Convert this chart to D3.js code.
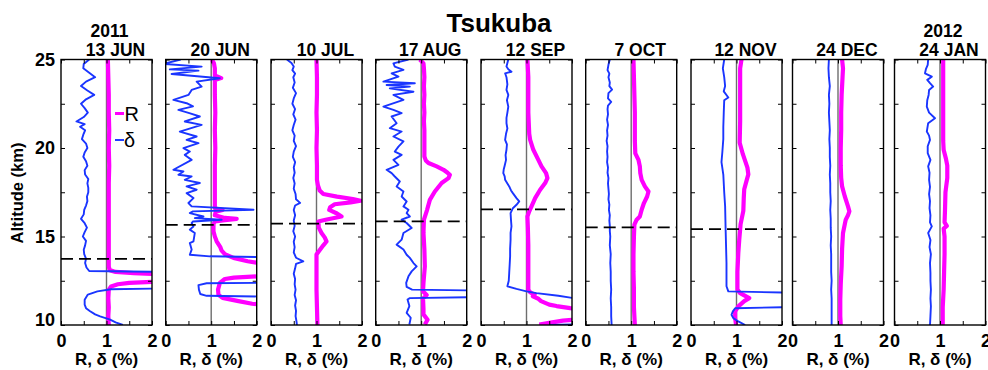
<!DOCTYPE html>
<html><head><meta charset="utf-8">
<script src="https://cdn.jsdelivr.net/npm/d3@7"></script>
<style>
html,body{margin:0;padding:0;background:#fff;}
svg{display:block;font-family:"Liberation Sans",Arial,sans-serif;}
</style></head>
<body>
<svg id="chart" width="988" height="370"></svg>
<script>
// ---------- DATA ----------
const title = "Tsukuba";
const dates = ["13 JUN","20 JUN","10 JUL","17 AUG","12 SEP","7 OCT","12 NOV","24 DEC","24 JAN"];
const years = ["2011","","","","","","","","2012"];
const tropopause = [13.74, 15.66, 15.73, 15.85, 16.53, 15.51, 15.42, null, null];
const xTicks = [0, 0.5, 1, 1.5, 2];
const xTickLabels = [0, 1, 2];
const yTicks = [10, 12.5, 15, 17.5, 20, 22.5, 25];
const yTickLabels = [10, 15, 20, 25];

// [altitude km, value]
const rJun13 = [[25,1.03],[24,1.04],[23,1.05],[22,1.05],[21,1.06],[20,1.05],[19,1.06],[18,1.05],[17,1.05],[16,1.05],[15,1.05],[14,1.05],[13.3,1.05],[13.1,1.07],[13.0,1.2],[12.93,1.6],[12.87,2.1],[12.8,2.5],[12.5,2.5],[12.44,2.0],[12.38,1.5],[12.3,1.25],[12.18,1.1],[12.0,1.05],[11.5,1.04],[11,1.05],[10.5,1.04],[10,1.05]];
const dJun13 = [[25,0.62],[24.75,0.5],[24.5,0.49],[24.25,0.62],[24,0.75],[23.75,0.55],[23.5,0.44],[23.25,0.58],[23,0.73],[22.75,0.55],[22.5,0.44],[22.25,0.52],[22,0.59],[21.75,0.5],[21.5,0.34],[21.35,0.52],[21.2,0.42],[21,0.53],[20.75,0.49],[20.5,0.46],[20.25,0.55],[20,0.58],[19.75,0.52],[19.5,0.49],[19.25,0.55],[19,0.58],[18.75,0.52],[18.5,0.53],[18.25,0.6],[18,0.58],[17.75,0.6],[17.5,0.6],[17.25,0.57],[17,0.58],[16.75,0.55],[16.5,0.51],[16.25,0.5],[16,0.44],[15.75,0.52],[15.5,0.57],[15.25,0.52],[15,0.48],[14.75,0.55],[14.5,0.53],[14.25,0.5],[14,0.51],[13.75,0.55],[13.5,0.53],[13.25,0.56],[13.05,0.62],[12.98,3],[12.1,3],[12.02,1.1],[11.9,0.8],[11.72,0.59],[11.43,0.52],[11.15,0.52],[10.95,0.55],[10.78,0.64],[10.6,0.75],[10.49,0.86],[10.3,1.08],[10.15,1.2],[10,1.36]];

const rJun20 = [[25,1.01],[24.8,1.06],[24.5,1.08],[24.1,1.08],[23.95,1.22],[23.85,1.08],[23,1.08],[22,1.09],[21,1.08],[20,1.09],[19,1.08],[18,1.08],[17,1.08],[16.6,1.08],[16.5,1.25],[16.4,1.1],[16.2,1.08],[16.05,1.3],[16.0,1.56],[15.92,1.3],[15.85,1.08],[15.7,1.05],[15.3,1.05],[15.0,1.08],[14.73,1.12],[14.4,1.2],[14.2,1.23],[14.0,1.3],[13.79,1.49],[13.6,1.8],[13.5,2.05],[13.4,2.3],[12.85,2.3],[12.75,2.05],[12.68,1.5],[12.6,1.3],[12.38,1.19],[12.0,1.15],[11.7,1.16],[11.53,1.25],[11.35,1.6],[11.2,1.9],[11.1,2.3],[10,2.3]];
const dJun20 = [[25.0,0.33],[24.75,-0.05],[24.6,0.79],[24.44,0.09],[24.37,0.72],[24.18,0.13],[23.94,1.19],[23.75,0.68],[23.47,0.79],[23.28,0.57],[23.0,0.5],[22.72,0.17],[22.53,0.46],[22.35,0.6],[22.15,0.28],[21.97,0.52],[21.78,0.75],[21.5,0.42],[21.31,0.79],[20.93,0.31],[20.65,0.68],[20.46,0.46],[20.27,0.72],[19.99,0.39],[19.8,0.53],[19.61,0.42],[19.33,0.57],[18.77,0.17],[18.67,0.39],[18.49,0.28],[18.39,0.57],[18.2,0.42],[18.02,0.75],[17.83,0.46],[17.64,0.68],[17.45,0.46],[17.17,0.61],[16.89,0.5],[16.7,0.57],[16.51,1.93],[16.42,0.6],[16.32,0.53],[16.13,0.83],[16.04,0.64],[15.95,1.23],[15.85,0.6],[15.76,0.57],[15.57,0.61],[15.39,0.53],[15.2,0.64],[14.73,0.61],[14.63,0.53],[14.26,0.57],[13.97,0.53],[13.88,0.97],[13.8,3],[12.4,3],[12.36,0.9],[12.25,0.72],[12.0,0.73],[11.75,0.76],[11.65,0.9],[11.58,3],[10,3]];

const rJul10 = [[25,1.0],[24,1.01],[23,1.01],[22,1.0],[21,1.01],[20,1.0],[19,1.01],[18.2,1.01],[17.9,1.03],[17.6,1.07],[17.4,1.15],[17.25,1.45],[17.12,1.8],[17.02,1.97],[16.93,1.75],[16.82,1.4],[16.65,1.3],[16.5,1.28],[16.3,1.45],[16.13,1.55],[15.95,1.2],[15.85,1.04],[15.5,1.05],[15.2,1.11],[14.95,1.18],[14.72,1.22],[14.5,1.15],[14.26,1.08],[13.98,1.0],[13,1.0],[12,1.0],[11,1.01],[10,1.02]];
const dJul10 = [[25,0.35],[24.8,0.45],[24.6,0.5],[24.4,0.47],[24.2,0.53],[24,0.49],[23.7,0.52],[23.4,0.48],[23.1,0.55],[22.8,0.5],[22.5,0.47],[22.2,0.53],[21.9,0.49],[21.6,0.54],[21.3,0.5],[21,0.47],[20.7,0.52],[20.4,0.5],[20.1,0.55],[19.8,0.5],[19.5,0.48],[19.2,0.53],[18.9,0.5],[18.6,0.52],[18.3,0.49],[18,0.52],[17.7,0.5],[17.4,0.54],[17.1,0.55],[16.9,0.64],[16.75,0.53],[16.5,0.5],[16.2,0.53],[15.9,0.5],[15.6,0.52],[15.3,0.49],[15.0,0.53],[14.7,0.5],[14.4,0.52],[14.1,0.5],[13.8,0.55],[13.6,0.71],[13.45,0.55],[13.2,0.53],[12.9,0.5],[12.6,0.53],[12.3,0.52],[12,0.54],[11.7,0.52],[11.4,0.55],[11.1,0.53],[10.8,0.55],[10.5,0.54],[10.2,0.56],[10,0.57]];

const rAug17 = [[25.0,0.97],[24.78,1.05],[24.5,1.06],[24,1.07],[23.5,1.06],[23,1.07],[22.5,1.06],[22,1.07],[21.5,1.06],[21,1.07],[20.5,1.07],[20,1.07],[19.52,1.07],[19.3,1.1],[19.15,1.16],[18.96,1.34],[18.77,1.49],[18.6,1.58],[18.49,1.63],[18.3,1.6],[18.02,1.45],[17.54,1.3],[17.07,1.19],[16.51,1.13],[15.95,1.06],[15.2,1.05],[14.26,1.07],[13.31,1.08],[12.38,1.05],[11.9,1.04],[11.7,1.12],[11.5,1.04],[10.9,1.05],[10.6,1.05],[10.3,1.14],[10.03,1.08]];
const dAug17 = [[25.0,0.72],[24.78,0.39],[24.6,0.42],[24.41,0.61],[24.22,0.35],[24.03,0.5],[23.75,0.17],[23.66,0.86],[23.56,0.24],[23.47,0.75],[23.37,0.31],[23.18,0.83],[23.0,0.39],[22.72,0.61],[22.34,0.17],[22.15,0.39],[21.97,0.57],[21.78,0.35],[21.4,0.46],[21.12,0.31],[20.93,0.57],[20.65,0.39],[20.37,0.61],[20.08,0.5],[19.8,0.42],[19.61,0.57],[19.33,0.39],[19.05,0.5],[18.77,0.24],[18.58,0.35],[18.39,0.42],[18.11,0.53],[17.83,0.46],[17.54,0.61],[17.26,0.57],[16.98,0.68],[16.7,0.61],[16.51,0.72],[16.32,0.68],[16.13,0.75],[15.95,0.57],[15.76,0.68],[15.48,0.79],[15.2,0.61],[14.82,0.57],[14.54,0.46],[14.26,0.61],[13.97,0.68],[13.79,0.75],[13.5,0.83],[13.31,0.9],[13.03,0.79],[12.75,0.72],[12.38,0.67],[12.15,0.68],[12.0,0.8],[11.92,3],[11.6,3],[11.52,0.75],[11.44,0.7],[11.07,0.74],[10.69,0.68],[10.41,0.77],[10.03,0.74]];

const rSep12 = [[25,1.02],[24,1.04],[23,1.04],[22,1.04],[21.4,1.05],[20.8,1.06],[20.46,1.08],[19.9,1.15],[19.33,1.26],[18.96,1.33],[18.58,1.43],[18.3,1.46],[18.02,1.41],[17.64,1.3],[17.17,1.19],[16.7,1.11],[16.42,1.06],[16.13,1.02],[15.5,1.03],[14.5,1.04],[13.5,1.04],[12.5,1.04],[12.0,1.04],[11.85,1.08],[11.7,1.18],[11.62,1.14],[11.5,1.25],[11.35,1.32],[11.15,1.5],[11.07,1.66],[10.95,1.96],[10.9,2.3],[10.35,2.3],[10.25,1.8],[10.12,1.5],[10.03,1.28]];
const dSep12 = [[25,0.6],[24.8,0.58],[24.6,0.56],[24.45,0.6],[24.31,0.67],[24.22,0.53],[24,0.56],[23.6,0.58],[23.28,0.56],[23,0.6],[22.7,0.57],[22.34,0.6],[22,0.58],[21.7,0.56],[21.4,0.56],[21.1,0.58],[20.8,0.55],[20.46,0.53],[20.2,0.57],[19.9,0.56],[19.6,0.54],[19.33,0.55],[19.0,0.52],[18.8,0.5],[18.58,0.49],[18.4,0.52],[18.2,0.53],[17.83,0.62],[17.6,0.66],[17.45,0.7],[17.17,0.78],[16.98,0.84],[16.79,0.78],[16.6,0.7],[16.32,0.65],[15.9,0.66],[15.57,0.67],[15.2,0.65],[14.82,0.65],[14.3,0.64],[13.88,0.64],[13.4,0.63],[12.94,0.62],[12.5,0.61],[12.19,0.58],[12.04,0.78],[11.9,1.0],[11.8,1.22],[11.65,1.7],[11.53,2.0],[11.45,2.3],[10.06,2.3],[10.0,1.5]];

const rOct7 = [[25,1.05],[24,1.06],[23,1.07],[22,1.08],[21,1.08],[20.4,1.08],[19.7,1.09],[19.33,1.16],[18.96,1.19],[18.58,1.2],[18.2,1.23],[17.83,1.3],[17.54,1.38],[17.26,1.35],[16.89,1.28],[16.51,1.23],[16.13,1.19],[15.95,1.12],[15.67,1.07],[15,1.06],[14,1.05],[13,1.05],[12,1.06],[11,1.06],[10,1.08]];
const dOct7 = [[25,0.53],[24.7,0.5],[24.4,0.48],[24.2,0.52],[24,0.5],[23.7,0.53],[23.5,0.52],[23.3,0.58],[23.1,0.5],[22.8,0.49],[22.6,0.56],[22.4,0.49],[22.2,0.48],[21.9,0.49],[21.6,0.47],[21.3,0.49],[21,0.47],[20.7,0.48],[20.4,0.46],[20.1,0.48],[19.8,0.47],[19.5,0.48],[19.2,0.47],[18.9,0.49],[18.6,0.48],[18.3,0.5],[18,0.49],[17.7,0.5],[17.4,0.51],[17.1,0.5],[16.8,0.52],[16.5,0.51],[16.2,0.53],[15.9,0.52],[15.6,0.53],[15.3,0.53],[15,0.54],[14.5,0.53],[14,0.55],[13.5,0.54],[13,0.55],[12.5,0.55],[12,0.56],[11.5,0.55],[11,0.56],[10.5,0.56],[10,0.57]];

const rNov12 = [[25,1.11],[24.5,1.08],[23,1.08],[21.5,1.08],[20.3,1.07],[19.65,1.14],[19.27,1.19],[18.89,1.24],[18.51,1.26],[18.14,1.22],[17.67,1.17],[17.2,1.16],[16.45,1.15],[15.7,1.09],[14.8,1.06],[14.07,1.04],[13,1.02],[12.0,1.02],[11.8,1.08],[11.52,1.28],[11.35,1.17],[11.05,1.04],[10.77,0.97],[10.4,0.97],[10,0.99]];
const dNov12 = [[25,0.73],[24.5,0.7],[24,0.73],[23.5,0.75],[23.2,0.72],[22.85,0.82],[22.7,0.73],[22,0.72],[21.2,0.71],[20.5,0.71],[19.8,0.69],[19.2,0.67],[18.5,0.71],[17.5,0.73],[16.7,0.75],[15.5,0.76],[14.5,0.77],[13.5,0.78],[12.5,0.78],[12.19,0.78],[11.9,0.82],[11.78,3],[11.05,3],[10.95,0.97],[10.77,0.92],[10.58,0.89],[10.39,0.93],[10.2,1.04],[10.0,1.19]];

const rDec24 = [[25,1.09],[24.5,1.11],[24,1.1],[23,1.08],[22,1.07],[21,1.07],[20,1.06],[19,1.06],[18.3,1.07],[17.83,1.09],[17.26,1.15],[16.7,1.22],[16.42,1.25],[16.2,1.22],[15.95,1.17],[15.2,1.11],[14.3,1.09],[13.31,1.08],[12.3,1.06],[11.45,1.05],[10.5,1.05],[10,1.06]];
const dDec24 = [[25,0.8],[24.5,0.79],[24,0.8],[23.5,0.82],[23,0.8],[22.5,0.81],[22,0.8],[21.5,0.81],[21,0.82],[20.5,0.81],[20,0.82],[19.5,0.82],[19,0.83],[18.5,0.82],[18,0.83],[17.5,0.83],[17,0.84],[16.5,0.83],[16,0.84],[15.5,0.84],[15,0.85],[14.5,0.84],[14,0.85],[13.5,0.85],[13,0.85],[12.5,0.86],[12,0.85],[11.5,0.86],[11,0.86],[10.5,0.86],[10,0.86]];

const rJan24 = [[25,1.07],[24,1.07],[23,1.07],[22,1.07],[21,1.07],[20.4,1.07],[19.9,1.08],[19.4,1.13],[19.0,1.16],[18.3,1.16],[17.5,1.12],[16.5,1.11],[15.8,1.1],[15.6,1.15],[15.45,1.08],[15,1.1],[14,1.1],[13,1.09],[12,1.08],[11,1.06],[10,1.06]];
const dJan24 = [[25,0.74],[24.7,0.73],[24.45,0.69],[24.22,0.67],[24.03,0.82],[23.85,0.72],[23.66,0.78],[23.47,0.85],[23.28,0.76],[23.0,0.75],[22.7,0.72],[22.34,0.71],[22.0,0.76],[21.68,0.89],[21.4,0.74],[20.93,0.71],[20.7,0.76],[20.46,0.78],[20.1,0.73],[19.71,0.73],[19.33,0.79],[18.96,0.74],[18.6,0.77],[18.2,0.76],[17.8,0.78],[17.4,0.76],[17.0,0.78],[16.6,0.77],[16.2,0.79],[15.8,0.78],[15.57,0.82],[15.2,0.74],[14.8,0.79],[14.4,0.77],[14.0,0.8],[13.5,0.78],[12.94,0.79],[12.5,0.79],[12.0,0.8],[11.5,0.79],[11.06,0.8],[10.5,0.79],[10,0.78]];

const rSeries = [rJun13, rJun20, rJul10, rAug17, rSep12, rOct7, rNov12, rDec24, rJan24];
const dSeries = [dJun13, dJun20, dJul10, dAug17, dSep12, dOct7, dNov12, dDec24, dJan24];

// ---------- LAYOUT ----------
const panelLeft = [61, 165.7, 271, 375.7, 481, 585.7, 691, 792.5, 894.5];
const PW = 91, TOP = 59.5, BOT = 325;
const magenta = "#ff00ff", blue = "#1a35ff";

const svg = d3.select("#chart");
const x = d3.scaleLinear().domain([0, 2]).range([0, PW]);
const y = d3.scaleLinear().domain([10, 25]).range([BOT - TOP, 0]);
const line = d3.line().x(d => x(d[1])).y(d => y(d[0]));

svg.append("text").attr("x", 499).attr("y", 31.5).attr("text-anchor", "middle")
  .attr("font-size", 26).attr("font-weight", "bold").text(title);

dates.forEach((dt, i) => {
  const g = svg.append("g").attr("transform", `translate(${panelLeft[i]},${TOP})`);
  const cid = "clip" + i;
  g.append("clipPath").attr("id", cid).append("rect")
    .attr("x", 0).attr("y", 0).attr("width", PW).attr("height", BOT - TOP);

  // reference line at 1
  g.append("line").attr("x1", x(1)).attr("x2", x(1)).attr("y1", 0).attr("y2", BOT - TOP)
    .attr("stroke", "#6e6e6e").attr("stroke-width", 1.4);

  const plot = g.append("g").attr("clip-path", `url(#${cid})`);
  plot.append("path").datum(rSeries[i]).attr("d", line).attr("fill", "none")
    .attr("stroke", magenta).attr("stroke-width", 4.2).attr("stroke-linejoin", "round");
  plot.append("path").datum(dSeries[i]).attr("d", line).attr("fill", "none")
    .attr("stroke", blue).attr("stroke-width", 1.9).attr("stroke-linejoin", "round");

  if (tropopause[i] != null) {
    plot.append("line").attr("x1", 0).attr("x2", PW)
      .attr("y1", y(tropopause[i])).attr("y2", y(tropopause[i]))
      .attr("stroke", "#000").attr("stroke-width", 1.8).attr("stroke-dasharray", "12,6");
  }

  // axes
  const ax = [
    g.append("g").attr("transform", `translate(0,${BOT - TOP})`)
      .call(d3.axisBottom(x).tickValues(xTicks).tickSize(-4).tickPadding(9)
        .tickFormat(d => xTickLabels.includes(d) ? d : "")),
    g.append("g").call(d3.axisTop(x).tickValues(xTicks).tickSize(-4).tickFormat("")),
    g.append("g").call(d3.axisLeft(y).tickValues(yTicks).tickSize(-4).tickPadding(6)
        .tickFormat(d => (i === 0 && yTickLabels.includes(d)) ? d : "")),
    g.append("g").attr("transform", `translate(${PW},0)`)
      .call(d3.axisRight(y).tickValues(yTicks).tickSize(-4).tickFormat(""))
  ];
  ax.forEach(a => {
    a.select(".domain").remove();
    a.selectAll("line").attr("stroke", "#000").attr("stroke-width", 1);
    a.selectAll("text").attr("font-size", 18).attr("font-weight", "bold")
      .attr("font-family", "Liberation Sans, Arial, sans-serif").attr("fill", "#000");
  });
  ax[2].selectAll(".tick").filter(d => d === 10).select("text").attr("dy", "0.05em");

  g.append("rect").attr("x", 0).attr("y", 0).attr("width", PW).attr("height", BOT - TOP)
    .attr("fill", "none").attr("stroke", "#000").attr("stroke-width", 1.4);

  // labels
  svg.append("text").attr("x", panelLeft[i] + PW / 2 + 9).attr("y", 56)
    .attr("text-anchor", "middle").attr("font-size", 17.5).attr("font-weight", "bold").text(dt);
  if (years[i]) {
    svg.append("text").attr("x", panelLeft[i] + PW / 2 + 3).attr("y", 36.5)
      .attr("text-anchor", "middle").attr("font-size", 17.5).attr("font-weight", "bold").text(years[i]);
  }
  svg.append("text").attr("x", panelLeft[i] + PW / 2).attr("y", 365)
    .attr("text-anchor", "middle").attr("font-size", 17).attr("font-weight", "bold").text("R, δ (%)");
});

svg.append("text").attr("transform", "translate(23,193) rotate(-90)")
  .attr("text-anchor", "middle").attr("font-size", 16.5).attr("font-weight", "bold").text("Altitude (km)");

// legend in first panel
const lg = svg.append("g");
lg.append("line").attr("x1", 115).attr("x2", 124).attr("y1", 113.5).attr("y2", 113.5)
  .attr("stroke", magenta).attr("stroke-width", 3);
lg.append("text").attr("x", 124.5).attr("y", 121).attr("font-size", 20).text("R");
lg.append("line").attr("x1", 115).attr("x2", 124).attr("y1", 140).attr("y2", 140)
  .attr("stroke", blue).attr("stroke-width", 1.9);
lg.append("text").attr("x", 124).attr("y", 147).attr("font-size", 20).text("δ");
</script>
</body></html>
